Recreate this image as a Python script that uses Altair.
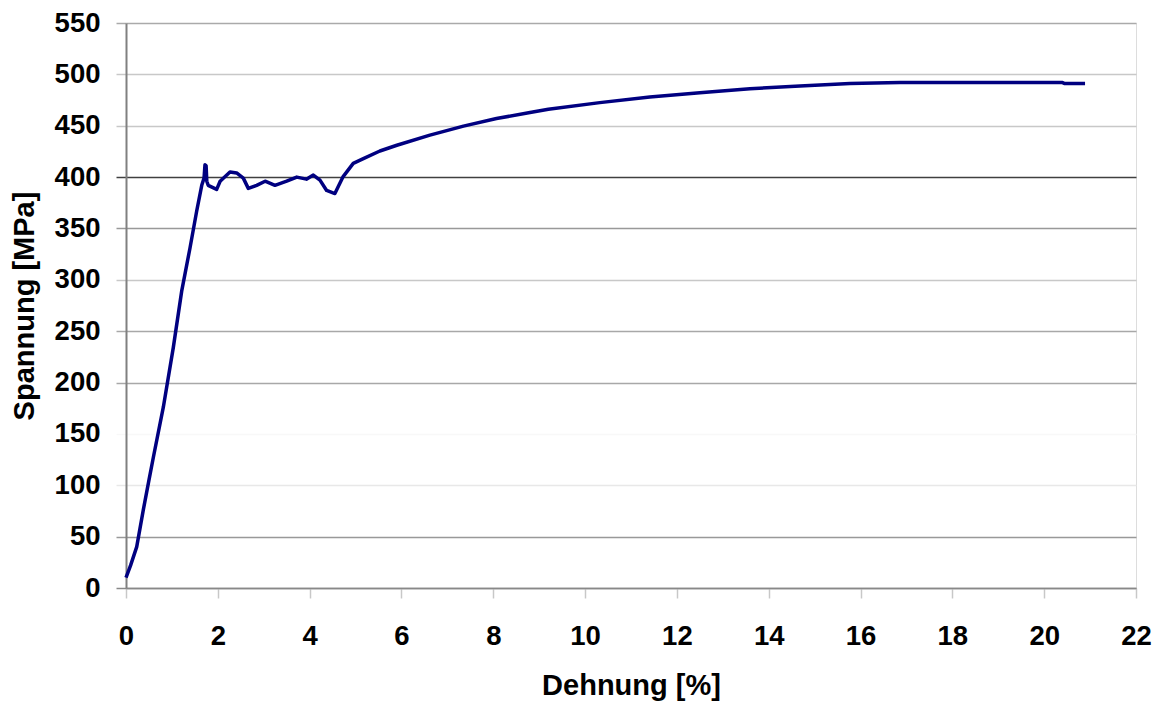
import altair as alt
import pandas as pd

strain = [0.0, 0.10, 0.233, 0.377, 0.50, 0.595, 0.813, 1.03, 1.213, 1.394, 1.54, 1.65,
          1.70, 1.72, 1.745, 1.76, 1.79, 1.975, 2.05, 2.265, 2.41, 2.555, 2.664, 2.846,
          3.03, 3.245, 3.50, 3.72, 3.93, 4.08, 4.225, 4.37, 4.55, 4.73, 4.95, 5.17,
          5.53, 5.90, 6.62, 7.35, 8.07, 8.80, 9.20, 10.32, 11.41, 12.5, 13.59, 14.68,
          15.77, 16.86, 18.0, 19.5, 20.4, 20.45, 20.89]
stress = [10, 22, 40, 76, 105, 127, 176, 234, 289, 331, 367, 392,
          399, 412, 411, 396, 392, 388, 396, 405, 404, 399, 389, 392,
          396, 392, 396, 400, 398, 402, 397, 387, 384, 400.5, 413.4, 418,
          425.4, 431, 440.9, 449.6, 457, 462.8, 466, 472.5, 478, 482, 486, 488.7,
          491, 492, 492, 492, 492, 491, 491]

x_ticks = [0, 2, 4, 6, 8, 10, 12, 14, 16, 18, 20, 22]
y_ticks = [0, 50, 100, 150, 200, 250, 300, 350, 400, 450, 500, 550]

df = pd.DataFrame({"i": list(range(len(strain))), "Dehnung": strain, "Spannung": stress})

FONT = "Liberation Sans"

grid_color = {
    "condition": [
        {"test": "datum.value == 400", "value": "#404040"},
        {"test": "datum.value == 350 || datum.value == 50", "value": "#999999"},
        {"test": "datum.value == 200 || datum.value == 250", "value": "#a8a8a8"},
        {"test": "datum.value == 100", "value": "#e8e8e8"},
        {"test": "datum.value == 150", "value": "#f8f8f8"},
        {"test": "datum.value == 550", "value": "#aaaaaa"},
        {"test": "datum.value == 0", "value": "#888888"},
    ],
    "value": "#c8c8c8",
}

chart = alt.Chart(df).mark_line(color="#000080", strokeWidth=3.5, strokeJoin="round").encode(
    x=alt.X(
        "Dehnung:Q",
        scale=alt.Scale(domain=[0, 22], nice=False, zero=False),
        axis=alt.Axis(
            values=x_ticks, title="Dehnung [%]", grid=False,
            labelFont=FONT, labelFontSize=27.5, labelFontWeight="bold", labelColor="black",
            labelPadding=24, labelFlush=False, labelOverlap=False,
            tickSize=10, tickColor="#c8c8c8", tickWidth=1.5,
            domainColor="#888888", domainWidth=1.5,
            titleFont=FONT, titleFontSize=29, titleFontWeight="bold", titleColor="black",
            titleBaseline="alphabetic", titleY=106,
        ),
    ),
    y=alt.Y(
        "Spannung:Q",
        scale=alt.Scale(domain=[0, 550], nice=False),
        axis=alt.Axis(
            values=y_ticks, title="Spannung [MPa]", grid=True,
            gridColor=grid_color, gridWidth=1.5,
            labelFont=FONT, labelFontSize=27.5, labelFontWeight="bold", labelColor="black",
            labelPadding=16, labelFlush=False, labelOverlap=False,
            tickSize=10, tickColor=grid_color, tickWidth=1.5,
            domainColor="#808080", domainWidth=2,
            titleFont=FONT, titleFontSize=29, titleFontWeight="bold", titleColor="black",
            titleBaseline="alphabetic", titleX=-93, titleY=282.5, titleAngle=270,
        ),
    ),
    order=alt.Order("i:Q"),
).properties(
    width=1010,
    height=565,
    autosize=alt.AutoSizeParams(type="none"),
    padding={"left": 118, "top": 15, "right": 21, "bottom": 116},
).configure_view(
    stroke="#999999", strokeWidth=1.5
).configure(background="white")

chart.save("out.html", embed_options={"renderer": "svg", "actions": False})
